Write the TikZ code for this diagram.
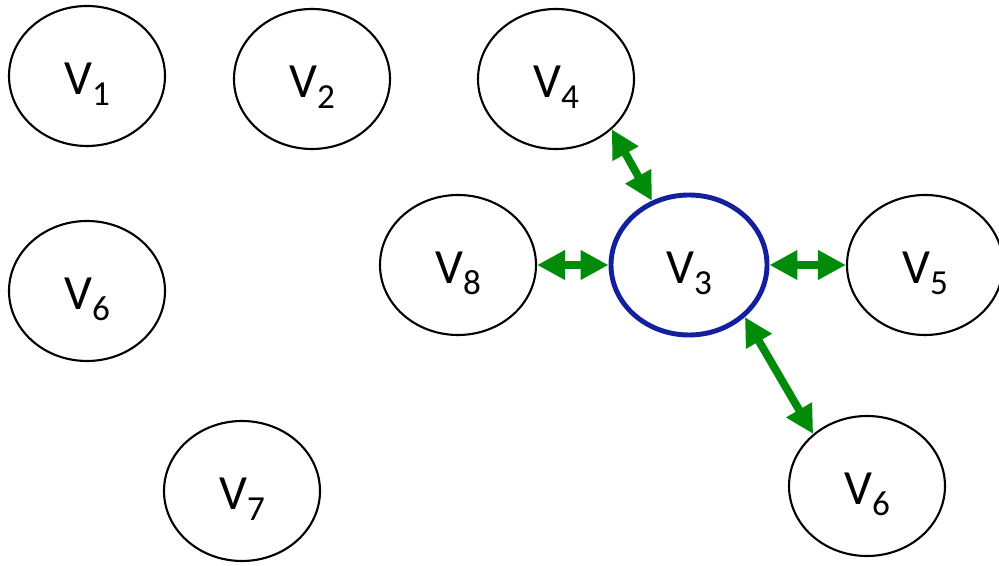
\documentclass[tikz,border=0pt]{standalone}
\usepackage{fontspec}
\setmainfont{Carlito}
\usetikzlibrary{shapes.geometric,arrows.meta}
\definecolor{linkgreen}{RGB}{0,140,10}
\definecolor{hubblue}{RGB}{18,32,160}
\newcommand{\vname}[1]{V\raisebox{-0.22cm}{\fontsize{20}{20}\selectfont #1}}

\begin{document}
\begin{tikzpicture}[x=1cm,y=1cm,
  vert/.style={ellipse,draw,line width=1.2pt,inner sep=0pt,
    minimum width=3.12cm,minimum height=2.8cm,
    text height=0.98cm,text depth=0.22cm,font=\fontsize{28}{28}\selectfont},
  hub/.style={vert,draw=hubblue,line width=2.8pt},
  link/.style={linkgreen,line width=4.5pt,
    {Triangle[length=0.56cm,width=0.56cm]}-{Triangle[length=0.56cm,width=0.56cm]}}]
 \useasboundingbox (0,0) rectangle (19.98,11.32);
 % loose vertices on the left
 \node[vert] (v1) at (1.74,9.80) {\vname{1}};
 \node[vert] (v2) at (6.24,9.74) {\vname{2}};
 \node[vert] (v6a) at (1.74,5.50) {\vname{6}};
 \node[vert] (v7) at (4.84,1.50) {\vname{7}};
 % V3 and its neighbours
 \node[hub] (v3) at (13.78,6.02) {\vname{3}};
 \node[vert] (v4) at (11.12,9.74) {\vname{4}};
 \node[vert] (v8) at (9.16,6.02) {\vname{8}};
 \node[vert] (v5) at (18.50,6.02) {\vname{5}};
 \node[vert] (v6b) at (17.34,1.60) {\vname{6}};
 % the diagonal links leave off the centre line, so pin them by angle
 \draw[link] (v4.-42) -- (v3.120);
 \draw[link] (v8) -- (v3);
 \draw[link] (v3) -- (v5);
 \draw[link] (v3.-43) -- (v6b.136);
\end{tikzpicture}
\end{document}
